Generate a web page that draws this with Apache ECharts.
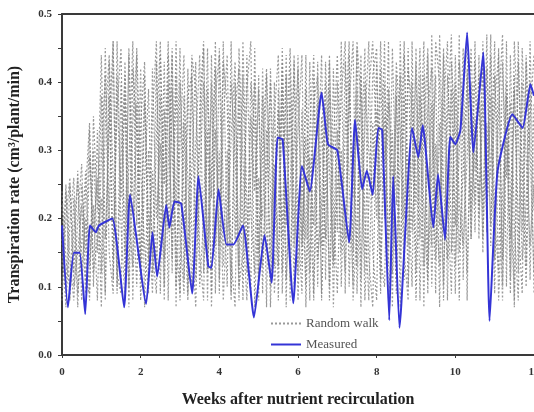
<!DOCTYPE html>
<html>
<head>
<meta charset="utf-8">
<script src="https://cdn.jsdelivr.net/npm/echarts@6/dist/echarts.min.js"></script>
<style>
  html, body { margin: 0; padding: 0; background: #fff; overflow: hidden; }
  #chart { width: 534px; height: 412px; }
</style>
</head>
<body>
<div id="chart"></div>
<script>
// 实测蒸腾速率 [周, 值]
var measured = [
  [0, 0.19], [0.15, 0.07], [0.3, 0.15], [0.45, 0.15], [0.59, 0.06], [0.71, 0.19], [0.86, 0.18], [0.94, 0.19],
  [1.28, 0.20], [1.58, 0.07], [1.73, 0.235], [2.14, 0.075], [2.3, 0.18], [2.42, 0.115], [2.65, 0.22], [2.73, 0.187],
  [2.86, 0.225], [3.03, 0.222], [3.31, 0.09], [3.47, 0.262], [3.72, 0.13], [3.8, 0.128], [3.98, 0.243], [4.18, 0.162],
  [4.36, 0.162], [4.6, 0.19], [4.88, 0.055], [5.15, 0.176], [5.33, 0.106], [5.48, 0.319], [5.61, 0.316], [5.88, 0.076],
  [6.1, 0.277], [6.3, 0.24], [6.6, 0.385], [6.76, 0.309], [7.0, 0.30], [7.3, 0.165], [7.45, 0.345], [7.63, 0.243],
  [7.75, 0.27], [7.9, 0.235], [8.04, 0.333], [8.14, 0.33], [8.32, 0.051], [8.42, 0.262], [8.58, 0.04], [8.9, 0.333],
  [9.06, 0.29], [9.17, 0.337], [9.44, 0.187], [9.56, 0.265], [9.74, 0.169], [9.87, 0.32], [10.0, 0.309], [10.13, 0.33],
  [10.3, 0.473], [10.46, 0.297], [10.71, 0.444], [10.87, 0.05], [11.07, 0.268], [11.45, 0.353], [11.71, 0.333],
  [11.91, 0.397], [12.0, 0.38]
]

// 随机游走 (每0.1周一个点)
var walkStep = 0.1
var walkA = [
  0.22, 0.09, 0.25, 0.12, 0.27, 0.08, 0.24, 0.34, 0.10, 0.33,
  0.12, 0.45, 0.20, 0.46, 0.09, 0.40, 0.15, 0.44, 0.08, 0.37,
  0.13, 0.41, 0.10, 0.35, 0.46, 0.16, 0.43, 0.08, 0.39, 0.22,
  0.45, 0.11, 0.42, 0.18, 0.07, 0.36, 0.46, 0.14, 0.40, 0.09,
  0.45, 0.25, 0.10, 0.46, 0.17, 0.38, 0.08, 0.44, 0.21, 0.12,
  0.41, 0.09, 0.33, 0.14, 0.40, 0.08, 0.45, 0.19, 0.37, 0.10,
  0.44, 0.13, 0.39, 0.24, 0.08, 0.43, 0.16, 0.36, 0.10, 0.42,
  0.18, 0.46, 0.09, 0.40, 0.23, 0.45, 0.11, 0.34, 0.46, 0.15,
  0.08, 0.42, 0.20, 0.46, 0.12, 0.38, 0.07, 0.44, 0.26, 0.10,
  0.45, 0.17, 0.41, 0.09, 0.47, 0.22, 0.13, 0.44, 0.08, 0.39,
  0.19, 0.47, 0.11, 0.42, 0.21, 0.46, 0.17, 0.43, 0.20, 0.38,
  0.09, 0.45, 0.14, 0.40, 0.24, 0.08, 0.46, 0.18, 0.43, 0.11,
  0.37
]
var walkB = [
  0.10, 0.24, 0.14, 0.08, 0.20, 0.28, 0.11, 0.09, 0.30, 0.15,
  0.38, 0.08, 0.43, 0.14, 0.36, 0.45, 0.11, 0.28, 0.46, 0.19,
  0.42, 0.07, 0.30, 0.15, 0.09, 0.44, 0.25, 0.46, 0.12, 0.41,
  0.08, 0.34, 0.13, 0.44, 0.39, 0.10, 0.20, 0.45, 0.07, 0.33,
  0.16, 0.43, 0.37, 0.08, 0.40, 0.13, 0.46, 0.22, 0.09, 0.45,
  0.15, 0.38, 0.07, 0.42, 0.21, 0.36, 0.12, 0.41, 0.08, 0.44,
  0.20, 0.09, 0.44, 0.12, 0.37, 0.41, 0.08, 0.43, 0.27, 0.14,
  0.40, 0.10, 0.33, 0.46, 0.08, 0.19, 0.44, 0.12, 0.39, 0.46,
  0.30, 0.09, 0.35, 0.13, 0.45, 0.22, 0.41, 0.15, 0.08, 0.46,
  0.12, 0.38, 0.07, 0.44, 0.16, 0.46, 0.40, 0.10, 0.35, 0.47,
  0.13, 0.30, 0.45, 0.08, 0.40, 0.18, 0.44, 0.15, 0.47, 0.16,
  0.41, 0.27, 0.08, 0.46, 0.11, 0.39, 0.20, 0.09, 0.44, 0.30,
  0.12
]
var walkC = [
  0.17, 0.07, 0.19, 0.26, 0.09, 0.16, 0.27, 0.13, 0.22, 0.08,
  0.29, 0.41, 0.15, 0.09, 0.46, 0.23, 0.38, 0.10, 0.42, 0.33,
  0.08, 0.26, 0.39, 0.12, 0.43, 0.09, 0.36, 0.18, 0.45, 0.10,
  0.31, 0.44, 0.09, 0.27, 0.43, 0.15, 0.08, 0.39, 0.23, 0.46,
  0.11, 0.34, 0.44, 0.14, 0.07, 0.45, 0.29, 0.12, 0.40, 0.33,
  0.08, 0.42, 0.18, 0.10, 0.35, 0.44, 0.09, 0.30, 0.45, 0.22,
  0.12, 0.36, 0.17, 0.43, 0.09, 0.28, 0.44, 0.11, 0.39, 0.07,
  0.33, 0.15, 0.43, 0.26, 0.10, 0.46, 0.37, 0.08, 0.22, 0.41,
  0.45, 0.14, 0.10, 0.39, 0.27, 0.09, 0.46, 0.20, 0.42, 0.36,
  0.08, 0.29, 0.46, 0.13, 0.37, 0.09, 0.47, 0.25, 0.14, 0.43,
  0.33, 0.08, 0.38, 0.46, 0.17, 0.35, 0.22, 0.46, 0.18, 0.44,
  0.14, 0.36, 0.47, 0.10, 0.44, 0.19, 0.08, 0.40, 0.13, 0.46,
  0.21
]
var walkD = [
  0.08, 0.20, 0.26, 0.10, 0.15, 0.22, 0.09, 0.29, 0.18, 0.26,
  0.07, 0.34, 0.44, 0.26, 0.12, 0.09, 0.43, 0.20, 0.13, 0.45,
  0.27, 0.16, 0.09, 0.42, 0.20, 0.31, 0.08, 0.40, 0.14, 0.46,
  0.18, 0.09, 0.38, 0.41, 0.11, 0.25, 0.40, 0.08, 0.44, 0.16,
  0.30, 0.08, 0.21, 0.40, 0.30, 0.10, 0.15, 0.39, 0.46, 0.07,
  0.26, 0.20, 0.41, 0.07, 0.28, 0.13, 0.39, 0.11, 0.24, 0.43,
  0.08, 0.27, 0.10, 0.33, 0.44, 0.14, 0.22, 0.40, 0.08, 0.31,
  0.44, 0.23, 0.12, 0.37, 0.46, 0.09, 0.28, 0.45, 0.14, 0.07,
  0.36, 0.24, 0.46, 0.08, 0.19, 0.43, 0.33, 0.11, 0.45, 0.18,
  0.30, 0.45, 0.21, 0.11, 0.27, 0.41, 0.07, 0.36, 0.46, 0.15,
  0.44, 0.22, 0.16, 0.29, 0.45, 0.27, 0.38, 0.21, 0.42, 0.26,
  0.46, 0.08, 0.23, 0.38, 0.09, 0.46, 0.33, 0.14, 0.22, 0.40,
  0.09
]
var walkE = [
  0.13, 0.25, 0.08, 0.18, 0.26, 0.12, 0.20, 0.08, 0.35, 0.21,
  0.44, 0.17, 0.33, 0.46, 0.10, 0.29, 0.41, 0.07, 0.34, 0.44,
  0.11, 0.37, 0.20, 0.09, 0.32, 0.46, 0.14, 0.28, 0.44, 0.07,
  0.40, 0.24, 0.08, 0.43, 0.19, 0.31, 0.45, 0.12, 0.27, 0.42,
  0.09, 0.46, 0.16, 0.32, 0.43, 0.08, 0.41, 0.15, 0.35, 0.24,
  0.39, 0.13, 0.27, 0.40, 0.09, 0.22, 0.43, 0.07, 0.42, 0.16,
  0.33, 0.44, 0.07, 0.29, 0.19, 0.37, 0.09, 0.25, 0.44, 0.13,
  0.24, 0.38, 0.46, 0.10, 0.31, 0.13, 0.41, 0.21, 0.08, 0.34,
  0.20, 0.46, 0.28, 0.37, 0.07, 0.41, 0.14, 0.38, 0.10, 0.27,
  0.43, 0.08, 0.33, 0.45, 0.10, 0.31, 0.19, 0.45, 0.23, 0.09,
  0.40, 0.15, 0.27, 0.41, 0.17, 0.43, 0.20, 0.37, 0.23, 0.47,
  0.20, 0.12, 0.43, 0.26, 0.37, 0.07, 0.43, 0.28, 0.10, 0.35,
  0.44
]
var walkF = [
  0.24, 0.14, 0.10, 0.23, 0.07, 0.25, 0.15, 0.33, 0.12, 0.17,
  0.23, 0.09, 0.38, 0.11, 0.41, 0.19, 0.08, 0.45, 0.24, 0.10,
  0.34, 0.43, 0.14, 0.27, 0.12, 0.38, 0.10, 0.44, 0.30, 0.16,
  0.09, 0.38, 0.26, 0.10, 0.31, 0.44, 0.12, 0.33, 0.09, 0.38,
  0.44, 0.13, 0.30, 0.09, 0.36, 0.42, 0.19, 0.08, 0.27, 0.40,
  0.11, 0.30, 0.42, 0.24, 0.13, 0.39, 0.17, 0.44, 0.11, 0.31,
  0.42, 0.16, 0.32, 0.08, 0.41, 0.10, 0.35, 0.17, 0.43, 0.22,
  0.09, 0.30, 0.17, 0.44, 0.15, 0.39, 0.07, 0.40, 0.30, 0.23,
  0.43, 0.11, 0.40, 0.16, 0.33, 0.11, 0.29, 0.46, 0.16, 0.40,
  0.22, 0.41, 0.13, 0.36, 0.42, 0.14, 0.34, 0.08, 0.41, 0.29,
  0.09, 0.43, 0.34, 0.12, 0.36, 0.22, 0.41, 0.17, 0.34, 0.19,
  0.37, 0.44, 0.10, 0.32, 0.17, 0.41, 0.12, 0.45, 0.29, 0.16,
  0.25
]
var walks = [walkA, walkB, walkC, walkD, walkE, walkF]

var serifFont = '"Liberation Serif", "DejaVu Serif", serif'
var axisColor = '#3a3a3a'

var myChart = echarts.init(document.getElementById('chart'))

var series = walks.map(function (w) {
  return {
    name: 'Random walk',
    type: 'line',
    symbol: 'none',
    silent: true,
    lineStyle: { color: 'rgba(128,128,128,0.8)', width: 1.2, type: [2, 2] },
    itemStyle: { color: '#999' },
    data: w.map(function (v, i) { return [+(i * walkStep).toFixed(1), v] })
  }
})
series.push({
  name: 'Measured',
  type: 'line',
  symbol: 'none',
  smooth: 0.15,
  lineStyle: { color: '#3434d6', width: 2 },
  itemStyle: { color: '#3434d6' },
  data: measured
})

myChart.setOption({
  animation: false,
  grid: { left: 62, right: 0, top: 14, bottom: 57, outerBoundsMode: 'none' },
  legend: {
    data: ['Random walk', 'Measured'],
    orient: 'vertical',
    left: 265,
    top: 312,
    itemWidth: 30,
    itemHeight: 8,
    itemGap: 8,
    itemStyle: { opacity: 0 }, // 图例只显示线, 不显示圆点
    textStyle: { fontFamily: serifFont, fontSize: 13, color: '#555' }
  },
  xAxis: [{
    type: 'value',
    min: 0,
    max: 12,
    interval: 2,
    name: 'Weeks after nutrient recirculation',
    nameLocation: 'middle',
    nameGap: 37,
    nameTextStyle: { fontFamily: serifFont, fontSize: 16, fontWeight: 'bold', color: '#222' },
    axisLine: { lineStyle: { color: axisColor, width: 2 } },
    axisTick: { length: 3, lineStyle: { color: axisColor } },
    axisLabel: { fontFamily: serifFont, fontSize: 11, fontWeight: 'bold', color: '#333', margin: 12 },
    splitLine: { show: false }
  }, {
    type: 'value',
    position: 'top',
    min: 0,
    max: 12,
    axisLine: { show: true, lineStyle: { color: axisColor, width: 2 } },
    axisTick: { show: false },
    axisLabel: { show: false },
    splitLine: { show: false }
  }],
  yAxis: {
    type: 'value',
    min: 0,
    max: 0.5,
    interval: 0.1,
    name: 'Transpiration rate (cm³/plant/min)',
    nameLocation: 'middle',
    nameGap: 39,
    nameTextStyle: { fontFamily: serifFont, fontSize: 16, fontWeight: 'bold', color: '#222' },
    axisLine: { show: true, lineStyle: { color: axisColor, width: 2 } },
    axisTick: { show: true, length: 4, lineStyle: { color: axisColor } },
    minorTick: { show: true, splitNumber: 2, length: 4, lineStyle: { color: axisColor } },
    axisLabel: {
      fontFamily: serifFont, fontSize: 11, fontWeight: 'bold', color: '#333', margin: 10,
      formatter: function (v) { return v.toFixed(1) }
    },
    splitLine: { show: false }
  },
  series: series
})

window.addEventListener('resize', function () { myChart.resize() })
</script>
</body>
</html>
